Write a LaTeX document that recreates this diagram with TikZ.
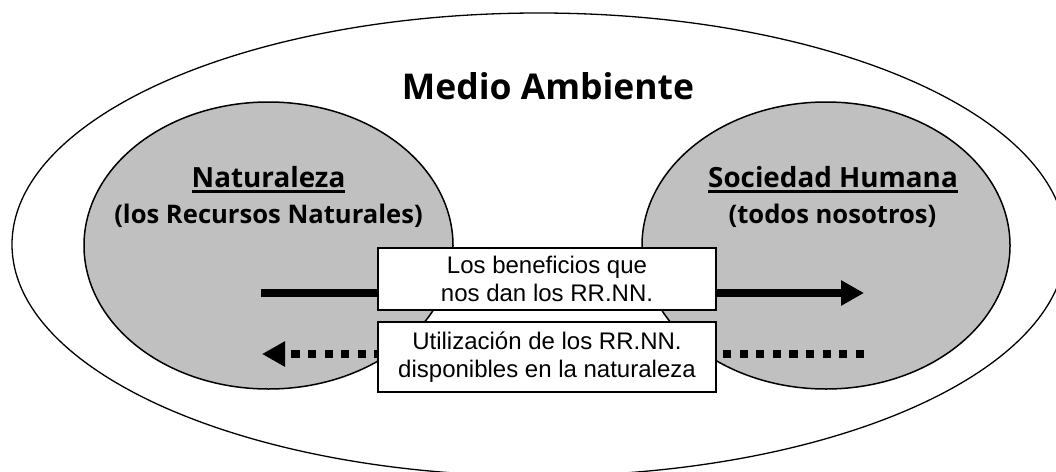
\documentclass[tikz,border=0pt]{standalone}
\usepackage{fontspec}
\setmainfont{Liberation Sans}
\newfontfamily\headfont{Open Sans}
\usetikzlibrary{arrows.meta}
\definecolor{regiongray}{HTML}{C0C0C0}

\begin{document}
\begin{tikzpicture}[
		x=1pt, y=-1pt,
		every node/.style={inner sep=0pt},
		rim/.style={draw=black, line width=1.5pt},
		region/.style={rim, fill=regiongray},
		bigtitle/.style={anchor=base, font=\headfont\bfseries\fontsize{35.5}{38}\selectfont},
		heading/.style={anchor=base, font=\headfont\bfseries\fontsize{27.8}{30}\selectfont},
		subheading/.style={anchor=base, font=\headfont\bfseries\fontsize{25.6}{28}\selectfont},
		flowbox/.style={draw, line width=2pt, fill=white, minimum width=338pt, align=center, font=\fontsize{24}{27.5}\selectfont},
		gives/.style={line width=8pt, -{Triangle[length=23pt,width=24pt]}},
		takes/.style={line width=8pt, dash pattern=on 8.3pt off 8.3pt, -{Triangle[length=23pt,width=24pt]}}
		]
		\useasboundingbox (0,0) rectangle (1056,471);
		\clip (0,0) rectangle (1056,471);
		
		\draw[rim, line width=1.3pt, fill=white] (539,244.5) ellipse [x radius=527pt, y radius=231.5pt];
		\draw[region] (268.5,245.5) ellipse [x radius=184.5pt, y radius=143.5pt];
		\draw[region] (826,245.5) ellipse [x radius=184pt, y radius=143.5pt];
		
		\node[bigtitle] (medio) at (548,99) {Medio Ambiente};
		\node[heading] (natu) at (268.5,187) {Naturaleza};
		\node[subheading] (recu) at (268.5,223) {(los Recursos Naturales)};
		\node[heading] (soci) at (833,187) {Sociedad Humana};
		\node[subheading] (todos) at (832.5,223) {(todos nosotros)};
		\draw[line width=2.5pt] ([yshift=-4.5pt]natu.base west) -- ([yshift=-4.5pt]natu.base east);
		\draw[line width=2.5pt] ([yshift=-4.5pt]soci.base west) -- ([yshift=-4.5pt]soci.base east);
		
		\coordinate (give-a) at (261,293);
		\coordinate (give-b) at (864,293);
		\coordinate (take-a) at (864,354);
		\coordinate (take-b) at (262,354);
		\draw[gives] (give-a) -- (give-b);
		\draw[takes] (take-a) -- (take-b);
		
		\node[flowbox, minimum height=62pt] (benef) at (547,279) {Los beneficios que\\nos dan los RR.NN.};
		\node[flowbox, minimum height=70pt] (util) at (547,357) {Utilización de los RR.NN.\\disponibles en la naturaleza};
	\end{tikzpicture}
\end{document}
